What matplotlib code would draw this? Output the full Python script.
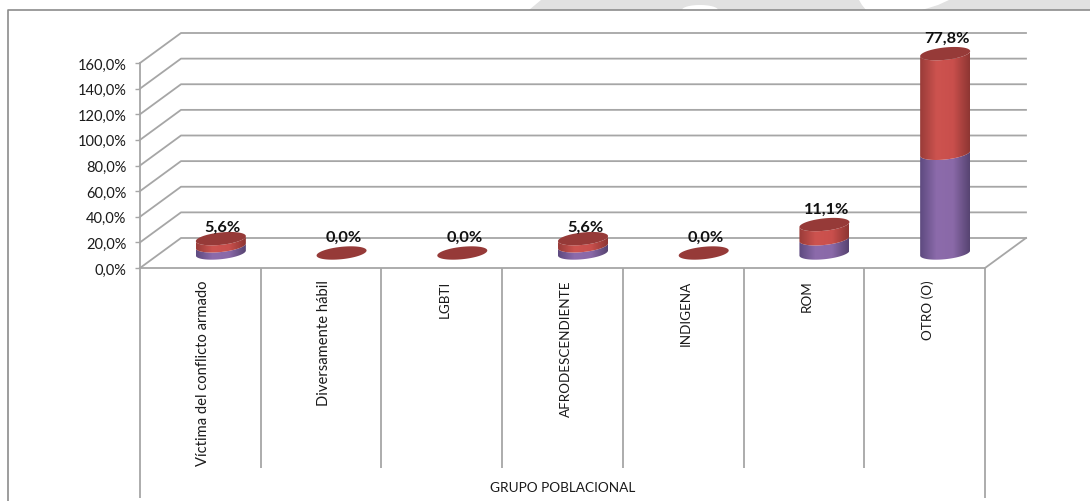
import numpy as np
import matplotlib
matplotlib.use('Agg')
import matplotlib.pyplot as plt
from matplotlib.colors import LinearSegmentedColormap
from matplotlib.lines import Line2D
from matplotlib.patches import Polygon
from matplotlib.transforms import ScaledTranslation

categories = ['Víctima del conflicto armado', 'Diversamente hábil', 'LGBTI',
              'AFRODESCENDIENTE', 'INDIGENA', 'ROM', 'OTRO (O)']
purple_values = [5.6, 0.0, 0.0, 5.6, 0.0, 11.1, 77.8]
red_values = [5.6, 0.0, 0.0, 5.6, 0.0, 11.1, 77.8]
value_labels = ['5,6%', '0,0%', '0,0%', '5,6%', '0,0%', '11,1%', '77,8%']
y_ticks = [0, 20, 40, 60, 80, 100, 120, 140, 160]
y_tick_labels = ['0,0%', '20,0%', '40,0%', '60,0%', '80,0%', '100,0%', '120,0%', '140,0%', '160,0%']
axis_title = 'GRUPO POBLACIONAL'

W, H = 1090, 501
plt.rcParams['font.family'] = ['Lato', 'DejaVu Sans']
GRID = '#a6a6a6'
TEXT = '#1a1a1a'

fig = plt.figure(figsize=(W / 100, H / 100), dpi=100)

# plot area in pixels of the picture
X0, X1, Y0, Y160 = 140, 985, 268, 63
ax = fig.add_axes([X0 / W, 1 - Y0 / H, (X1 - X0) / W, (Y0 - Y160) / H])
ax.set_xlim(0, 7)
ax.set_ylim(0, 160)
ax.patch.set_alpha(0)

px_x = 7 / (X1 - X0)
px_y = 160 / (Y0 - Y160)


def fig_xy(x, y):
    return x / W, 1 - y / H


def nudge(label, dx, dy):
    # move a tick label by some pixels
    label.set_transform(label.get_transform() + ScaledTranslation(dx / 100, -dy / 100, fig.dpi_scale_trans))


# grey watermark strip above the frame, with its white shapes
strip = [(529, 10), (541, 0), (1090, 0), (1090, 10)]
bite = [(859, 0), (862, 5), (866, 10), (922, 10), (938, 5), (949, 0)]
t = np.linspace(0, np.pi, 40)
bump = [(700 + 18 * np.cos(a), 10 - 5 * np.sin(a)) for a in t]
for shape, colour in [(strip, '#e1e1e1'), (bite, 'white'), (bump, 'white')]:
    fig.add_artist(Polygon([fig_xy(*p) for p in shape], closed=True, fc=colour, ec='none',
                           transform=fig.transFigure))

# outer frame, open on the right and at the bottom
fig.add_artist(Line2D([8 / W, 8 / W, 1], [0, 1 - 10 / H, 1 - 10 / H], color='#8c8c8c', lw=1.2))

# walls of the fake 3D box
DX, DY = 41 * px_x, 30 * px_y
for v in y_ticks:
    ax.plot([0, DX, 7 + DX], [v, v + DY, v + DY], color=GRID, lw=1.3, clip_on=False, zorder=1)
ax.plot([7, 7 + DX], [0, DY], color=GRID, lw=1.3, clip_on=False, zorder=1)

# dividers below the axis
low = -(468 - Y0) * px_y
lowest = -(498 - Y0) * px_y
ax.vlines(range(1, 7), low, 0, color=GRID, lw=1.3, clip_on=False)
ax.vlines([0, 7], lowest, 0, color=GRID, lw=1.3, clip_on=False)

for side in ['top', 'right']:
    ax.spines[side].set_visible(False)
for side in ['left', 'bottom']:
    ax.spines[side].set_color(GRID)
    ax.spines[side].set_linewidth(1.3)

ax.set_yticks(y_ticks)
ax.set_yticklabels(y_tick_labels, fontsize=10.5, color=TEXT)
ax.tick_params(axis='y', length=3.6, width=1.0, color=GRID, pad=6)
for label in ax.get_yticklabels():
    nudge(label, 0, 1)
ax.set_xticks(np.arange(7) + 0.5)
ax.set_xticklabels(categories, rotation=90, fontsize=10.6, color=TEXT, ha='center', va='top')
ax.tick_params(axis='x', length=0, pad=9)
for label in ax.get_xticklabels():
    nudge(label, 3, 0)
    # Lato capitals run wider than the original face
    if label.get_text().isupper():
        label.set_fontsize(9.7)
ax.text(3.5, -(488 - Y0) * px_y, axis_title, ha='center', va='center', fontsize=9.8,
        color=TEXT, clip_on=False)

# cylinders
A, B, K = 25, 6.2, 2.5
CX_SHIFT, CY_SHIFT = 20.5 * px_x, 15 * px_y
purple_cm = LinearSegmentedColormap.from_list('p', ['#5e4a80', '#8c6bab', '#8a69a8', '#574472'])
red_cm = LinearSegmentedColormap.from_list('r', ['#9a3c39', '#cd534f', '#c94f4c', '#8e3633'])
grad = np.linspace(0, 1, 64).reshape(1, -1)


def ring(cx, v, t):
    x = cx + A * np.cos(t) * px_x
    y = v + CY_SHIFT + (K * np.cos(t) - B * np.sin(t)) * px_y
    return x, y


def draw_segment(cx, v0, v1, cmap, z):
    t = np.linspace(0, np.pi, 50)
    # front half of the ring: t runs from right to left through the lower side
    xb, yb = ring(cx, v0, t)
    xt, yt = ring(cx, v1, t[::-1])
    outline = np.column_stack([np.r_[xb, xt], np.r_[yb, yt]])
    clip = Polygon(outline, closed=True, fc='none', ec='none', zorder=z, clip_on=False)
    ax.add_patch(clip)
    im = ax.imshow(grad, cmap=cmap, aspect='auto', zorder=z, interpolation='bilinear',
                   extent=[cx - A * px_x, cx + A * px_x, v0 + CY_SHIFT - 8 * px_y,
                           v1 + CY_SHIFT + 8 * px_y])
    im.set_clip_box(fig.bbox)
    im.set_clip_path(clip)


for i, (p, r) in enumerate(zip(purple_values, red_values)):
    cx = i + 0.5 + CX_SHIFT
    if p + r > 0:
        draw_segment(cx, 0, p, purple_cm, 3)
        draw_segment(cx, p, p + r, red_cm, 4)
    t = np.linspace(0, 2 * np.pi, 100)
    x, y = ring(cx, p + r, t)
    ax.add_patch(Polygon(np.column_stack([x, y]), closed=True, fc='#963a38', ec='none',
                         zorder=5, clip_on=False))
    # the short columns keep their label closer to the top
    gap = 10.5 if value_labels[i] == '5,6%' else (15 if p + r == 0 else 14.5)
    ax.text(cx + 2 * px_x, p + r + CY_SHIFT + gap * px_y, value_labels[i], ha='center', va='center',
            fontsize=11.8, fontweight='bold', color='#111111', zorder=6, clip_on=False)

ax.set_xlim(0, 7)
ax.set_ylim(0, 160)

fig.savefig('out.png', dpi=100, facecolor='white')
